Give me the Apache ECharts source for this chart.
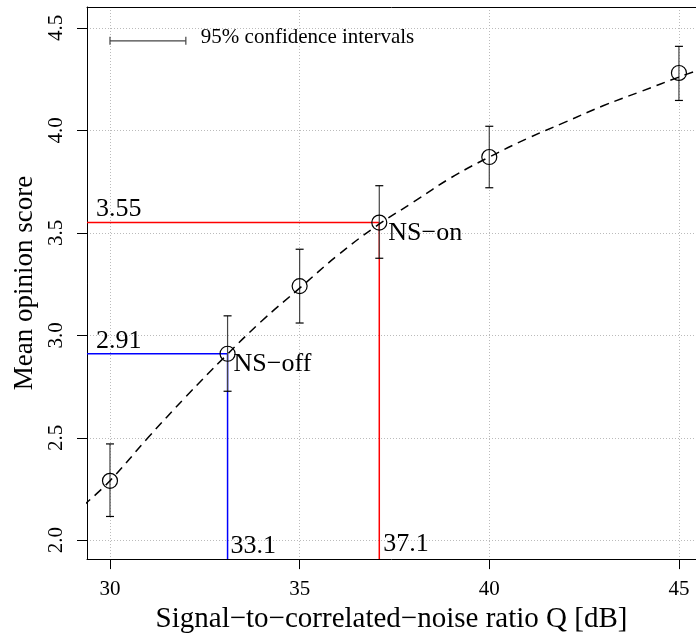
<!DOCTYPE html>
<html><head><meta charset="utf-8">
<script src="https://cdn.jsdelivr.net/npm/echarts@6/dist/echarts.min.js"></script>
<style>html,body{margin:0;padding:0;background:#fff}#c{width:696px;height:639px}</style>
</head><body><div id="c"></div>
<script>
// ---- data ----
const snr    = [30, 33.1, 35, 37.1, 40, 45];
const mos    = [2.29, 2.91, 3.24, 3.55, 3.87, 4.28];
const ciLow  = [2.116, 2.727, 3.06, 3.376, 3.72, 4.146];
const ciHigh = [2.47, 3.095, 3.42, 3.73, 4.02, 4.41];
const fitSnr = [29.3, 30, 31, 32, 33, 34, 35, 36, 37, 38, 39, 40, 41, 42, 43, 44, 45, 45.6];
const fitMos = [2.17, 2.29, 2.50, 2.70, 2.89, 3.07, 3.23, 3.39, 3.53, 3.65, 3.77, 3.87, 3.96, 4.04, 4.12, 4.19, 4.26, 4.30];
const xTicks = [30, 35, 40, 45];
const yTicks = [2.0, 2.5, 3.0, 3.5, 4.0, 4.5];
const nsOff  = [33.1, 2.91];
const nsOn   = [37.1, 3.55];
const ciKey  = [30, 32, 4.437];   // legend bar: from, to, level
const xRange = [29.394, 45.45];
const yRange = [1.908, 4.602];

const FONT = 'Liberation Serif, Times New Roman, serif';
const chart = echarts.init(document.getElementById('c'), null, {renderer: 'canvas'});

function errRender(params, api) {
  const x = api.value(0), lo = api.value(1), hi = api.value(2);
  const a = api.coord([x, lo]), b = api.coord([x, hi]);
  const w = 4;
  return {type: 'group', children: [
    {type: 'line', shape: {x1: a[0], y1: a[1], x2: b[0], y2: b[1]}, style: {stroke: '#444', lineWidth: 1.2}},
    {type: 'line', shape: {x1: a[0]-w, y1: a[1], x2: a[0]+w, y2: a[1]}, style: {stroke: '#000', lineWidth: 1.2}},
    {type: 'line', shape: {x1: b[0]-w, y1: b[1], x2: b[0]+w, y2: b[1]}, style: {stroke: '#000', lineWidth: 1.2}}
  ]};
}
function keyRender(params, api) {
  const a = api.coord([api.value(0), api.value(2)]), b = api.coord([api.value(1), api.value(2)]);
  const h = 4;
  return {type: 'group', children: [
    {type: 'line', shape: {x1: a[0], y1: a[1], x2: b[0], y2: b[1]}, style: {stroke: '#444', lineWidth: 1.2}},
    {type: 'line', shape: {x1: a[0], y1: a[1]-h, x2: a[0], y2: a[1]+h}, style: {stroke: '#444', lineWidth: 1.2}},
    {type: 'line', shape: {x1: b[0], y1: b[1]-h, x2: b[0], y2: b[1]+h}, style: {stroke: '#444', lineWidth: 1.2}}
  ]};
}

const txt = (s, extra) => Object.assign({show: true, formatter: s, color: '#000', fontFamily: FONT, fontSize: 26}, extra);

const option = {
  animation: false,
  backgroundColor: '#fff',
  textStyle: {fontFamily: FONT},
  grid: {left: 87, top: 7, right: 0, bottom: 76, show: false},
  xAxis: [{
    type: 'value', min: xRange[0], max: xRange[1], minInterval: 5, maxInterval: 5,
    name: 'Signal\u2212to\u2212correlated\u2212noise ratio Q [dB]', nameLocation: 'middle', nameGap: 35,
    nameTextStyle: {fontFamily: FONT, fontSize: 29, color: '#000'},
    axisLine: {show: true, onZero: false, lineStyle: {color: '#000', width: 1}},
    axisTick: {show: true, length: 10, customValues: xTicks, lineStyle: {color: '#000'}},
    axisLabel: {customValues: xTicks, margin: 20, fontFamily: FONT, fontSize: 21, color: '#000', formatter: v => String(v)},
    splitLine: {show: true, lineStyle: {color: '#bbb', type: [1, 2], width: 1}}
  }, {
    type: 'value', position: 'top', min: xRange[0], max: xRange[1],
    axisLine: {show: true, onZero: false, lineStyle: {color: '#000', width: 1}},
    axisTick: {show: false}, axisLabel: {show: false}, splitLine: {show: false}
  }],
  yAxis: {
    type: 'value', min: yRange[0], max: yRange[1], minInterval: 0.5, maxInterval: 0.5,
    name: 'Mean opinion score', nameLocation: 'middle', nameGap: 48,
    nameTextStyle: {fontFamily: FONT, fontSize: 27, color: '#000'},
    axisLine: {show: true, onZero: false, lineStyle: {color: '#000', width: 1}},
    axisTick: {show: true, length: 10, customValues: yTicks, lineStyle: {color: '#000'}},
    axisLabel: {customValues: yTicks, rotate: 90, margin: 20, fontFamily: FONT, fontSize: 21, color: '#000',
      formatter: v => v.toFixed(1)},
    splitLine: {show: true, lineStyle: {color: '#bbb', type: [1, 2], width: 1}}
  },
  series: [
    {type: 'line', name: 'on', data: [[xRange[0], nsOn[1]], nsOn, [nsOn[0], yRange[0]]],
     symbol: 'none', lineStyle: {color: '#ff0000', width: 1.5}, z: 3},
    {type: 'line', name: 'off', data: [[xRange[0], nsOff[1]], nsOff, [nsOff[0], yRange[0]]],
     symbol: 'none', lineStyle: {color: '#0000ff', width: 1.5}, z: 3},
    {type: 'custom', name: 'ci', renderItem: errRender,
     data: snr.map((q, i) => [q, ciLow[i], ciHigh[i]]), z: 4},
    {type: 'line', name: 'fit', data: fitSnr.map((q, i) => [q, fitMos[i]]), smooth: 0.4,
     symbol: 'none', lineStyle: {color: '#000', width: 1.5, type: [9, 6]}, z: 5},
    {type: 'scatter', name: 'mos', data: snr.map((q, i) => [q, mos[i]]), symbol: 'circle', symbolSize: 15,
     itemStyle: {color: 'rgba(0,0,0,0)', borderColor: '#000', borderWidth: 1.2, opacity: 1}, z: 6},
    {type: 'custom', name: 'key', renderItem: keyRender, data: [ciKey], z: 6},
    {type: 'scatter', name: 'annot', symbolSize: 0, z: 7, silent: true, itemStyle: {opacity: 1},
     data: [
       {value: [ciKey[1], ciKey[2]], label: txt('95% confidence intervals', {position: 'right', distance: 0, offset: [15, -3], fontSize: 21})},
       {value: [xRange[0], nsOn[1]], label: txt(nsOn[1].toFixed(2), {position: 'right', align: 'left', verticalAlign: 'bottom', offset: [4, 0]})},
       {value: [xRange[0], nsOff[1]], label: txt(nsOff[1].toFixed(2), {position: 'right', align: 'left', verticalAlign: 'bottom', offset: [4, 0]})},
       {value: nsOn, label: txt('NS\u2212on', {position: 'right', distance: 0, offset: [9, 11]})},
       {value: nsOff, label: txt('NS\u2212off', {position: 'right', distance: 0, offset: [6, 10]})},
       {value: [nsOff[0], yRange[0]], label: txt(nsOff[0].toFixed(1), {position: 'right', distance: 0, offset: [3, -13]})},
       {value: [nsOn[0], yRange[0]], label: txt(nsOn[0].toFixed(1), {position: 'right', distance: 0, offset: [4, -15]})}
     ]}
  ]
};
chart.setOption(option);
</script></body></html>
